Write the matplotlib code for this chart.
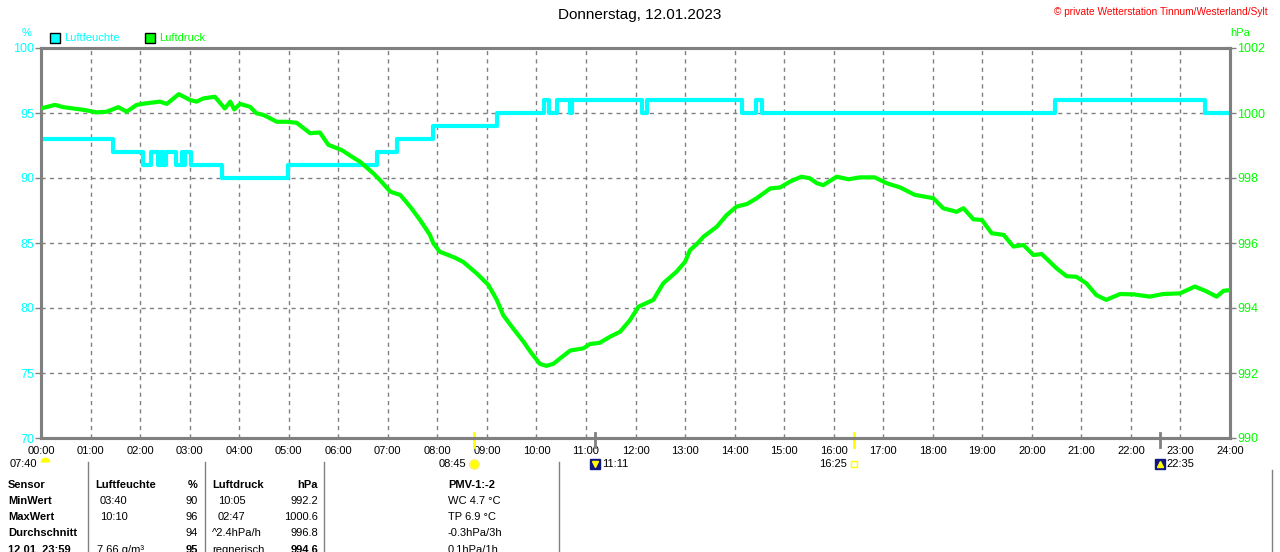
import matplotlib
matplotlib.use("Agg")
import matplotlib.pyplot as plt
from matplotlib.patches import Rectangle
from matplotlib.lines import Line2D

# humidity (%), step values, time in hours
hum_t = [0, 1.46, 2.05, 2.23, 2.37, 2.42, 2.46, 2.52, 2.73, 2.84, 2.87, 2.91, 3.02,
         3.65, 4.99, 6.78, 7.18, 7.91, 9.2, 10.15, 10.26, 10.42, 10.68, 10.72,
         12.14, 12.24, 14.14, 14.43, 14.55, 20.47, 23.5, 24]
hum_v = [93, 92, 91, 92, 91, 92, 91, 92, 91, 92, 91, 92, 91,
         90, 91, 92, 93, 94, 95, 96, 95, 96, 95, 96,
         95, 96, 95, 96, 95, 96, 95, 95]

# pressure (hPa)
pres_t = [0.00, 0.28, 0.45, 0.65, 0.89, 1.12, 1.33, 1.56, 1.73, 1.93, 2.13, 2.40, 2.54,
          2.78, 3.01, 3.14, 3.28, 3.51, 3.71, 3.82, 3.90, 4.02, 4.22, 4.35, 4.49, 4.62,
          4.76, 4.96, 5.16, 5.43, 5.63, 5.80, 6.07, 6.27, 6.44, 6.71, 6.84, 7.05, 7.25,
          7.45, 7.65, 7.85, 7.92, 8.05, 8.22, 8.35, 8.52, 8.79, 9.03, 9.20, 9.33, 9.53,
          9.74, 9.90, 10.07, 10.20, 10.34, 10.48, 10.68, 10.95, 11.08, 11.28, 11.49,
          11.69, 11.89, 12.06, 12.36, 12.56, 12.83, 13.00, 13.10, 13.24, 13.37, 13.64,
          13.84, 14.04, 14.25, 14.45, 14.72, 14.92, 15.12, 15.35, 15.52, 15.66, 15.79,
          16.06, 16.30, 16.53, 16.83, 17.07, 17.34, 17.64, 18.01, 18.21, 18.48, 18.62,
          18.82, 18.99, 19.19, 19.43, 19.63, 19.83, 20.03, 20.20, 20.50, 20.70, 20.90,
          21.10, 21.30, 21.50, 21.78, 22.05, 22.38, 22.65, 22.99, 23.29, 23.50, 23.73,
          23.87, 24.00]
pres_v = [1000.14, 1000.25, 1000.18, 1000.14, 1000.09, 1000.02, 1000.04, 1000.18, 1000.04,
          1000.25, 1000.30, 1000.35, 1000.28, 1000.58, 1000.40, 1000.35, 1000.45, 1000.50,
          1000.14, 1000.35, 1000.11, 1000.28, 1000.19, 999.99, 999.94, 999.84, 999.73,
          999.73, 999.70, 999.38, 999.40, 999.02, 998.86, 998.66, 998.50, 998.14, 997.94,
          997.58, 997.48, 997.12, 996.71, 996.25, 995.99, 995.73, 995.63, 995.55, 995.42,
          995.07, 994.71, 994.25, 993.78, 993.37, 992.96, 992.61, 992.28, 992.22, 992.28,
          992.45, 992.69, 992.76, 992.89, 992.93, 993.12, 993.27, 993.63, 994.04, 994.25,
          994.76, 995.12, 995.42, 995.78, 995.97, 996.19, 996.50, 996.86, 997.12, 997.20,
          997.38, 997.68, 997.71, 997.89, 998.04, 997.99, 997.84, 997.78, 998.04, 997.96,
          998.02, 998.02, 997.84, 997.71, 997.48, 997.38, 997.07, 996.96, 997.07, 996.73,
          996.71, 996.30, 996.25, 995.89, 995.94, 995.63, 995.66, 995.22, 994.98, 994.96,
          994.76, 994.40, 994.25, 994.43, 994.42, 994.35, 994.43, 994.45, 994.66, 994.53,
          994.35, 994.53, 994.55]

hours = list(range(0, 25))
hour_labels = ["%02d:00" % h for h in hours]

# sun / moon events (hours, label, kind)
event_t = [0.0, 8.75, 11.183, 16.417, 22.583]
event_lbl = ["07:40", "08:45", "11:11", "16:25", "22:35"]
event_kind = ["dawn", "sunrise", "moonset", "sunset", "moonrise"]

# table below chart
tab_head = ["Sensor", "Luftfeuchte", "%", "Luftdruck", "hPa", "PMV-1:-2"]
tab_rows = ["MinWert", "MaxWert", "Durchschnitt", "12.01. 23:59"]
hum_time = ["03:40", "10:10", "", "7.66 g/m³"]
hum_val = ["90", "96", "94", "95"]
pres_time = ["10:05", "02:47", "^2.4hPa/h", "regnerisch"]
pres_val = ["992.2", "1000.6", "996.8", "994.6"]
extra = ["WC 4.7 °C", "TP 6.9 °C", "-0.3hPa/3h", "0.1hPa/1h"]

CYAN = "#00ffff"
GREEN = "#00ff00"
GRAY = "#808080"
W, H = 1280, 552
plt.rcParams['font.family'] = ['Liberation Sans', 'DejaVu Sans']


def fx(x):
    return x / W


def fy(y):
    return 1 - y / H


fig = plt.figure(figsize=(12.8, 5.52), dpi=100)
ax = fig.add_axes([fx(41), fy(438), fx(1230) - fx(41), fy(48) - fy(438)])
ax2 = ax.twinx()

ax.plot(hum_t, hum_v, drawstyle='steps-post', color=CYAN, lw=3.0, zorder=3)
ax2.plot(pres_t, pres_v, color=GREEN, lw=3.0, zorder=3)

ax.set_xlim(0, 24)
ax.set_ylim(70, 100)
ax2.set_ylim(990, 1002)
ax.set_xticks(hours)
ax.set_xticklabels(hour_labels, fontsize=8)
ax.set_yticks(range(70, 101, 5))
ax2.set_yticks(range(990, 1003, 2))
ax.tick_params(axis='x', length=0, pad=6)
ax.tick_params(axis='y', colors=GRAY, labelcolor=CYAN, labelsize=9, length=4, width=1, pad=1)
ax2.tick_params(axis='y', colors=GRAY, labelcolor=GREEN, labelsize=9, length=4, width=1, pad=1)
ax.grid(True, color=GRAY, ls=(0, (3, 3)), lw=1)
for a in (ax, ax2):
    for s in a.spines.values():
        s.set_color(GRAY)
        s.set_linewidth(2.2)

# axis units
fig.text(fx(27), fy(33), "%", color=CYAN, fontsize=8, ha='center', va='center')
fig.text(fx(1240), fy(33), "hPa", color=GREEN, fontsize=8, ha='center', va='center')

# legend
for x0, col, name in [(50, CYAN, "Luftfeuchte"), (145, GREEN, "Luftdruck")]:
    fig.patches.append(Rectangle((fx(x0), fy(43)), fx(10), 10 / H, facecolor=col,
                                 edgecolor='black', lw=1, transform=fig.transFigure))
    fig.text(fx(x0 + 14), fy(38), name, color=col, fontsize=8, va='center')

fig.text(0.5, fy(15), "Donnerstag, 12.01.2023", fontsize=11, ha='center', va='center')
fig.text(fx(1268), fy(12), "© private Wetterstation Tinnum/Westerland/Sylt", color='red',
         fontsize=7.3, ha='right', va='center')

# sun / moon events
tr = ax.get_xaxis_transform()
for t, lbl, kind in zip(event_t, event_lbl, event_kind):
    ev_y = -26 / 390
    if kind in ("sunrise", "sunset"):
        ax.plot([t, t], [0.012, -0.022], color='yellow', lw=2, transform=tr, clip_on=False)
    if kind.startswith("moon"):
        ax.plot([t, t], [0.012, -0.022], color=GRAY, lw=2, transform=tr, clip_on=False)
        ax.plot(t, ev_y, marker='s', ms=7, color='#101880', transform=tr, clip_on=False)
        ax.plot(t, ev_y, marker='v' if kind == "moonset" else '^', ms=4, color='yellow',
                transform=tr, clip_on=False)
        ax.annotate(lbl, (t, ev_y), xycoords=tr, xytext=(5, 0), textcoords='offset points',
                    fontsize=8, ha='left', va='center', annotation_clip=False)
        continue
    if kind == "dawn":
        ax.plot(t + 0.08, ev_y + 0.005, marker='o', ms=7, color='yellow', fillstyle='top',
                markeredgewidth=0, transform=tr, clip_on=False)
        off = -3
    elif kind == "sunrise":
        ax.plot(t, ev_y, marker='o', ms=7, color='yellow', markeredgecolor='#ffee88',
                transform=tr, clip_on=False)
        off = -6
    else:
        ax.plot(t, ev_y, marker='s', ms=4, markerfacecolor='white', markeredgecolor='yellow',
                transform=tr, clip_on=False)
        off = -5
    ax.annotate(lbl, (t, ev_y), xycoords=tr, xytext=(off, 0), textcoords='offset points',
                fontsize=8, ha='right', va='center', annotation_clip=False)

# table
for xl in (88, 205, 324, 559, 1272):
    fig.add_artist(Line2D([fx(xl), fx(xl)], [fy(462 if xl < 1000 else 470), 0],
                          color=GRAY, lw=1))
row_y = [501, 517, 533, 550]
fig.text(fx(8), fy(485), tab_head[0], fontsize=8, fontweight='bold', va='center')
fig.text(fx(95), fy(485), tab_head[1], fontsize=8, fontweight='bold', va='center')
fig.text(fx(198), fy(485), tab_head[2], fontsize=8, fontweight='bold', va='center', ha='right')
fig.text(fx(212), fy(485), tab_head[3], fontsize=8, fontweight='bold', va='center')
fig.text(fx(318), fy(485), tab_head[4], fontsize=8, fontweight='bold', va='center', ha='right')
fig.text(fx(448), fy(485), tab_head[5], fontsize=8, fontweight='bold', va='center')
for i, y in enumerate(row_y):
    last = i == len(row_y) - 1
    fig.text(fx(8), fy(y), tab_rows[i], fontsize=8, fontweight='bold', va='center')
    fig.text(fx(97 if last else 100), fy(y), hum_time[i], fontsize=8, va='center')
    fig.text(fx(198), fy(y), hum_val[i], fontsize=8, va='center', ha='right',
             fontweight='bold' if last else 'normal')
    fig.text(fx(212 if i >= 2 else 218), fy(y), pres_time[i], fontsize=8, va='center')
    fig.text(fx(318), fy(y), pres_val[i], fontsize=8, va='center', ha='right',
             fontweight='bold' if last else 'normal')
    fig.text(fx(448), fy(y), extra[i], fontsize=8, va='center')

fig.savefig("out.png", dpi=100)
